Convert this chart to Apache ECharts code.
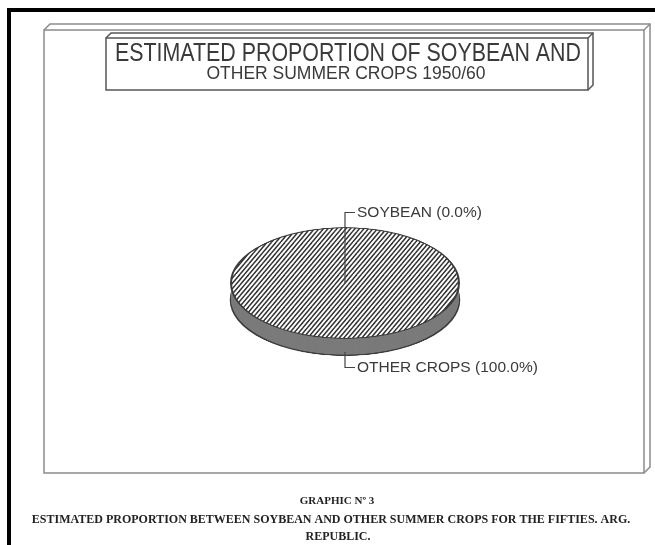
<!DOCTYPE html>
<html>
<head>
<meta charset="utf-8">
<title>Soybean share 1950/60</title>
<script src="https://cdn.jsdelivr.net/npm/echarts@6/dist/echarts.min.js"></script>
<style>
html, body { margin: 0; padding: 0; background: #fff; }
#page { position: relative; width: 655px; height: 545px; overflow: hidden; background: #fff; }
/* the pie is drawn round and squashed into an ellipse for the tilted look */
#pie { position: absolute; left: 195px; top: 133px; width: 300px; height: 310px;
       transform-origin: 150px 150px; transform: scaleY(0.485); }
#overlay { position: absolute; left: 0; top: 0; width: 655px; height: 545px; }
</style>
</head>
<body>
<div id="page">
  <div id="pie"></div>
  <div id="overlay"></div>
</div>
<script>
// data
var categories = ["SOYBEAN", "OTHER CROPS"];
var shares = [0.0, 100.0];
var titleLines = ["ESTIMATED PROPORTION OF SOYBEAN AND", "OTHER SUMMER CROPS 1950/60"];
var captionLines = [
  "GRAPHIC Nº 3",
  "ESTIMATED PROPORTION BETWEEN SOYBEAN AND OTHER SUMMER CROPS FOR THE FIFTIES. ARG.",
  "REPUBLIC."
];

var pieData = categories.map(function(c, i) {
  return { name: c, value: shares[i] };
});

// diagonal hatch for the top face
function hatch() {
  var c = document.createElement("canvas");
  c.width = 9;
  c.height = 22;
  var ctx = c.getContext("2d");
  ctx.fillStyle = "#fff";
  ctx.fillRect(0, 0, 9, 22);
  ctx.strokeStyle = "#333";
  ctx.lineWidth = 1.8;
  for (var x0 = -9; x0 <= 9; x0 += 4.5) {
    ctx.beginPath();
    ctx.moveTo(x0, 22);
    ctx.lineTo(x0 + 9, 0);
    ctx.stroke();
  }
  return c;
}

var RADIUS = 114;
var DEPTH = 35; // in unsquashed px
var series = [];
for (var k = DEPTH; k > 0; k -= 2) {
  series.push({
    type: "pie",
    silent: true,
    radius: RADIUS,
    center: [150, 150 + k],
    startAngle: 90,
    data: pieData,
    label: { show: false },
    labelLine: { show: false },
    itemStyle: {
      color: "#7a7a7a",
      borderColor: k === DEPTH ? "#3c3c3c" : "#7a7a7a",
      borderWidth: k === DEPTH ? 2.5 : 0
    }
  });
}
series.push({
  type: "pie",
  silent: true,
  radius: RADIUS,
  center: [150, 150],
  startAngle: 90,
  data: pieData,
  label: { show: false },
  labelLine: { show: false },
  itemStyle: {
    color: { image: hatch(), repeat: "repeat" },
    borderColor: "#3c3c3c",
    borderWidth: 2
  }
});

var pieChart = echarts.init(document.getElementById("pie"));
pieChart.setOption({
  animation: false,
  series: series
});

// frame, title box, labels and captions
var gray = "#8c8c8c";
var ink = "#3a3a3a";
function box(x1, y1, x2, y2, d, color, lw, fill) {
  return [
    { type: "rect", shape: { x: x1, y: y1, width: x2 - x1, height: y2 - y1 },
      style: { fill: fill || null, stroke: color, lineWidth: lw } },
    { type: "polyline", shape: { points: [[x1, y1], [x1 + d, y1 - d], [x2 + d, y1 - d], [x2 + d, y2 - d], [x2, y2]] },
      style: { fill: null, stroke: color, lineWidth: lw } },
    { type: "line", shape: { x1: x2, y1: y1, x2: x2 + d, y2: y1 - d },
      style: { stroke: color, lineWidth: lw } }
  ];
}
function txt(s, x, y, size, opts) {
  opts = opts || {};
  return {
    type: "text",
    x: x,
    y: y,
    scaleX: opts.squeeze || 1,
    style: {
      text: s, x: 0, y: 0,
      textAlign: opts.align || "center",
      textVerticalAlign: "middle",
      fontFamily: opts.family || "Liberation Sans",
      fontSize: size,
      fontWeight: opts.weight || "normal",
      fill: opts.color || ink
    }
  };
}
function label(i) {
  return categories[i] + " (" + shares[i].toFixed(1) + "%)";
}

var elements = [
  { type: "rect", shape: { x: 7, y: 8, width: 4, height: 537 }, style: { fill: "#000" } },
  { type: "rect", shape: { x: 7, y: 8, width: 648, height: 4 }, style: { fill: "#000" } }
];
elements = elements.concat(box(44, 30, 644, 473, 6, gray, 1.5));
elements = elements.concat(box(106, 38, 588, 90, 5, "#555", 1.5, "#fff"));
elements.push(txt(titleLines[0], 348, 54, 25, { squeeze: 0.855 }));
elements.push(txt(titleLines[1], 346, 74, 17.5));

// leader lines
elements.push({ type: "polyline", shape: { points: [[345, 283], [345, 212.5], [355, 212.5]] },
  style: { fill: null, stroke: "#444", lineWidth: 1.2 } });
elements.push({ type: "polyline", shape: { points: [[345, 352], [345, 367.5], [355, 367.5]] },
  style: { fill: null, stroke: "#444", lineWidth: 1.2 } });
elements.push(txt(label(0), 357, 212.5, 15.5, { align: "left" }));
elements.push(txt(label(1), 357, 367.5, 15.5, { align: "left" }));

var serif = { family: "Liberation Serif", weight: "bold", color: "#222" };
elements.push(txt(captionLines[0], 337, 501.5, 11, serif));
elements.push(txt(captionLines[1], 331, 519.5, 12, serif));
elements.push(txt(captionLines[2], 338, 536.5, 12, serif));

var overlay = echarts.init(document.getElementById("overlay"));
overlay.setOption({
  animation: false,
  graphic: { elements: elements }
});
</script>
</body>
</html>
